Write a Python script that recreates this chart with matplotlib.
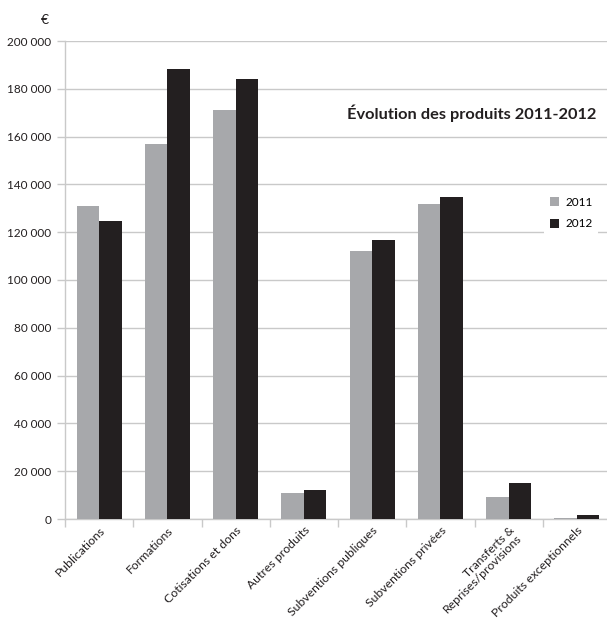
import matplotlib
matplotlib.use("Agg")
import matplotlib.pyplot as plt
import numpy as np
from matplotlib.ticker import FuncFormatter, FixedLocator

categories = ["Publications", "Formations", "Cotisations et dons", "Autres produits",
              "Subventions publiques", "Subventions privées",
              "Transferts &\nReprises/provisions", "Produits exceptionnels"]
values_2011 = [131000, 156900, 171100, 11000, 112300, 131900, 9300, 300]
values_2012 = [124700, 188300, 184100, 12000, 116900, 134900, 15200, 1800]
yticks = [0, 20000, 40000, 60000, 80000, 100000, 120000, 140000, 160000, 180000, 200000]

plt.rcParams['font.family'] = ['Lato', 'DejaVu Sans']

grey = "#a7a8ab"
dark = "#231f20"
grid = "#c9c9c9"

fig = plt.figure(figsize=(6.07, 6.21), dpi=100)
ax = fig.add_axes([65 / 607, 1 - 519 / 621, 546 / 607, 478 / 621])

x = np.arange(len(categories))
w = 0.33
ax.bar(x - w / 2, values_2011, w, color=grey, label="2011", zorder=3)
ax.bar(x + w / 2, values_2012, w, color=dark, label="2012", zorder=3)

ax.set_xlim(-0.5, len(categories) - 0.5)
ax.set_ylim(0, 200000)
ax.set_yticks(yticks)
ax.yaxis.set_major_formatter(FuncFormatter(lambda v, p: f"{int(v):,}".replace(",", " ")))
ax.grid(axis="y", color=grid, linewidth=1, zorder=0)

for s in ["top", "right"]:
    ax.spines[s].set_visible(False)
for s in ["left", "bottom"]:
    ax.spines[s].set_color(grid)
    ax.spines[s].set_linewidth(1)

ax.set_xticks(x)
ax.set_xticklabels(categories, rotation=45, ha="right", rotation_mode="anchor",
                   fontsize=8.8, color="#231f20", linespacing=0.95)
ax.tick_params(axis="x", which="major", length=0, pad=4)
ax.xaxis.set_minor_locator(FixedLocator(np.arange(-0.5, len(categories), 1.0)))
ax.tick_params(axis="x", which="minor", length=6, color=grid, width=1)
ax.tick_params(axis="y", length=6, color=grid, width=1, labelsize=8.5,
               labelcolor="#231f20", pad=4)

fig.text(45 / 607, 1 - 20 / 621, "€", fontsize=10, color="#231f20",
         ha="center", va="center")
fig.text(596 / 607, 1 - 113 / 621, "Évolution des produits 2011-2012",
         ha="right", va="center", fontsize=11.8, fontweight="bold", color="#231f20")

leg = ax.legend(loc="upper left", bbox_to_anchor=(538 / 607, 1 - 185 / 621),
                bbox_transform=fig.transFigure, frameon=True, fontsize=8.5,
                handlelength=0.8, handleheight=0.8, handletextpad=0.5,
                labelspacing=0.9, borderpad=0.5)
leg.get_frame().set_facecolor("white")
leg.get_frame().set_edgecolor("none")
leg.get_frame().set_alpha(1)

fig.savefig("out.png", dpi=100, facecolor="white")
